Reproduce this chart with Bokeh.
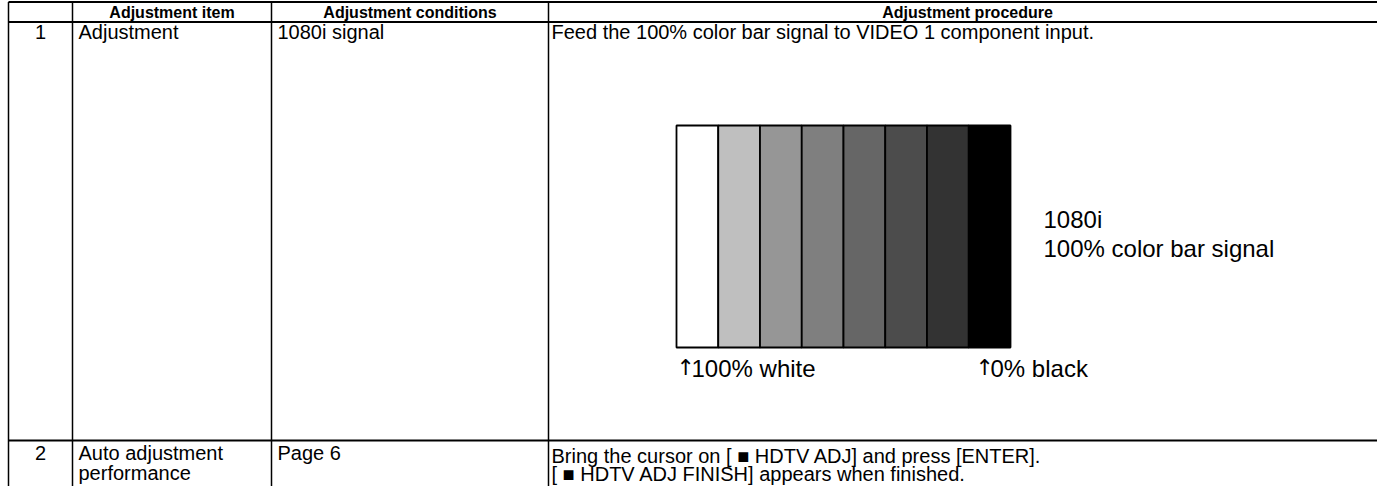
from bokeh.plotting import figure
from bokeh.models import Range1d, ColumnDataSource
from bokeh.embed import file_html
from bokeh.resources import INLINE
from bokeh.core.properties import value

# ---------------- data ----------------
headers = ["", "Adjustment item", "Adjustment conditions", "Adjustment procedure"]
row_numbers = ["1", "2"]
items = [["Adjustment"], ["Auto adjustment", "performance"]]
conditions = [["1080i signal"], ["Page 6"]]
procedures = [
    ["Feed the 100% color bar signal to VIDEO 1 component input."],
    ["Bring the cursor on [ \u25a0 HDTV ADJ] and press [ENTER].",
     "[ \u25a0 HDTV ADJ FINISH] appears when finished."],
]
bar_levels = [100, 75, 59, 50, 40, 30, 20, 0]   # luminance, %
bar_labels = ["\u2191100% white", "\u21910% black"]
signal_caption = ["1080i", "100% color bar signal"]

# ---------------- layout ----------------
W, H = 1377, 486
FONT = "Liberation Sans"
col_edges = [8, 72, 271, 548, 1400]
row_edges = [1.5, 21.5, 440, 530]
pad = 6

p = figure(width=W, height=H, output_backend="svg", toolbar_location=None,
           x_range=Range1d(0, W), y_range=Range1d(H, 0),
           min_border=0, outline_line_color=None, background_fill_color="white")
p.axis.visible = False
p.grid.visible = False

# table lines
p.segment(x0=[col_edges[0]] * 3, x1=[col_edges[-1]] * 3,
          y0=row_edges[:3], y1=row_edges[:3], line_color="black", line_width=2)
p.segment(x0=col_edges[:4], x1=col_edges[:4], y0=[row_edges[0]] * 4,
          y1=[row_edges[-1]] * 4, line_color="black", line_width=1.5)

# header
hx = [(col_edges[i] + col_edges[i + 1]) / 2 for i in range(3)] + [967]
p.text(x=hx, y=[11.5] * 4, text=headers,
       text_font=value(FONT), text_font_style="bold", text_font_size="16px",
       text_align="center", text_baseline="middle", text_color="black")

# body rows
xs, ys, ts, als = [], [], [], []
row_y = [[31], [452, 472]]
proc_y = [[31], [455, 473]]
for r in range(2):
    xs.append((col_edges[0] + col_edges[1]) / 2); ys.append(row_y[r][0]); ts.append(row_numbers[r]); als.append("center")
    for k, t in enumerate(items[r]):
        xs.append(col_edges[1] + pad); ys.append(row_y[r][k]); ts.append(t); als.append("left")
    for k, t in enumerate(conditions[r]):
        xs.append(col_edges[2] + pad); ys.append(row_y[r][k]); ts.append(t); als.append("left")
    for k, t in enumerate(procedures[r]):
        xs.append(col_edges[3] + 3); ys.append(proc_y[r][k]); ts.append(t); als.append("left")
p.text(x=xs, y=ys, text=ts, text_align=als, text_font=value(FONT),
       text_font_size="20px", text_baseline="middle", text_color="black")

# colour bars
bx0, bx1, by0, by1 = 676, 1010, 125, 347
bw = (bx1 - bx0) / len(bar_levels)
lefts = [bx0 + i * bw for i in range(len(bar_levels))]
colors = ["#%02x%02x%02x" % ((round(v * 2.55),) * 3) for v in bar_levels]
src = ColumnDataSource(dict(left=lefts, right=[l + bw for l in lefts],
                            top=[by0] * len(bar_levels), bottom=[by1] * len(bar_levels),
                            color=colors))
p.quad(left="left", right="right", top="top", bottom="bottom", source=src,
       fill_color="color", line_color="black", line_width=1.8)

# labels under the bars: arrow glyph drawn in a font that has it
lab_x = [676, 975]
p.text(x=lab_x, y=[367, 367], text=[s[0] for s in bar_labels],
       text_font=value("DejaVu Sans"), text_font_size="22px",
       text_baseline="middle", text_color="black")
p.text(x=[x + 15 for x in lab_x], y=[368, 368], text=[s[1:] for s in bar_labels],
       text_font=value(FONT), text_font_size="24px",
       text_baseline="middle", text_color="black")
p.text(x=[1043, 1043], y=[219, 248], text=signal_caption, text_font=value(FONT),
       text_font_size="24px", text_baseline="middle", text_color="black")

open("out.html", "w").write(file_html(p, INLINE))
